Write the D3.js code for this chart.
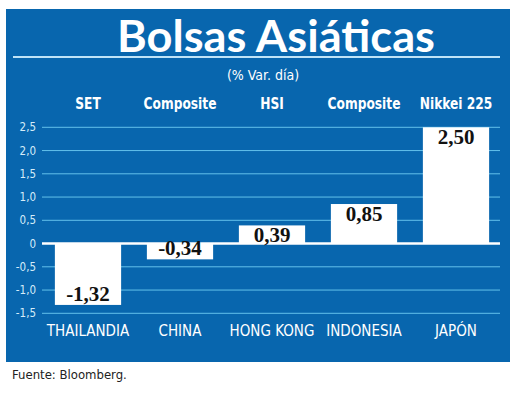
<!DOCTYPE html>
<html>
<head>
<meta charset="utf-8">
<script src="https://cdn.jsdelivr.net/npm/d3@7"></script>
<style>
  body { margin: 0; background: #fff; }
</style>
</head>
<body>
<svg id="chart"></svg>
<script>
// Data
const countries = ["THAILANDIA", "CHINA", "HONG KONG", "INDONESIA", "JAPÓN"];
const indexNames = ["SET", "Composite", "HSI", "Composite", "Nikkei 225"];
const changes = [-1.32, -0.34, 0.39, 0.85, 2.50];
const yTicks = [-1.5, -1.0, -0.5, 0, 0.5, 1.0, 1.5, 2.0, 2.5];

const width = 520, height = 404;
const blue = "#0866ae";
const gridColor = "#63c1ec";
const condensed = "'DejaVu Sans Condensed', 'Open Sans', sans-serif";

const svg = d3.select("#chart")
    .attr("width", width)
    .attr("height", height);

// Blue panel
svg.append("rect")
   .attr("x", 6).attr("y", 9)
   .attr("width", 504).attr("height", 353)
   .attr("fill", blue);

// Title and rule under it
svg.append("text")
   .attr("x", 276).attr("y", 52)
   .attr("text-anchor", "middle")
   .attr("font-family", "Lato, 'Open Sans', sans-serif")
   .attr("font-weight", "bold")
   .attr("font-size", "44px")
   .attr("fill", "#fff")
   .attr("textLength", 318)
   .attr("lengthAdjust", "spacingAndGlyphs")
   .text("Bolsas Asiáticas");

svg.append("line")
   .attr("x1", 13).attr("x2", 500)
   .attr("y1", 57).attr("y2", 57)
   .attr("stroke", "#bfe3f7")
   .attr("stroke-width", 2);

svg.append("text")
   .attr("x", 263).attr("y", 80)
   .attr("text-anchor", "middle")
   .attr("font-family", condensed)
   .attr("font-size", "14px")
   .attr("fill", "#fff")
   .text("(% Var. día)");

// Scales
const x = d3.scaleBand()
    .domain(countries)
    .range([42, 502])
    .paddingInner(0.28)
    .paddingOuter(0.14);

const y = d3.scaleLinear()
    .domain([-1.5, 2.5])
    .range([313.3, 127.3]);

const comma = (v, p) => v.toFixed(p).replace(".", ",");

// Gridlines
svg.selectAll(".grid")
   .data(yTicks.filter(t => t !== 0))
   .enter()
   .append("line")
   .attr("class", "grid")
   .attr("x1", 42).attr("x2", 500)
   .attr("y1", d => y(d)).attr("y2", d => y(d))
   .attr("stroke", gridColor)
   .attr("stroke-width", 1);

// Tick labels
svg.selectAll(".tick-label")
   .data(yTicks)
   .enter()
   .append("text")
   .attr("class", "tick-label")
   .attr("x", 36)
   .attr("y", d => y(d))
   .attr("dy", "0.35em")
   .attr("text-anchor", "end")
   .attr("font-family", condensed)
   .attr("font-size", "11.5px")
   .attr("fill", "#d6ecf9")
   .text(d => d === 0 ? "0" : comma(d, 1));

// Bars
svg.selectAll(".bar")
   .data(changes)
   .enter()
   .append("rect")
   .attr("class", "bar")
   .attr("x", (d, i) => x(countries[i]))
   .attr("width", x.bandwidth())
   .attr("y", d => y(Math.max(0, d)))
   .attr("height", d => Math.abs(y(d) - y(0)))
   .attr("fill", "#fff");

// Zero line
svg.append("line")
   .attr("x1", 42).attr("x2", 500)
   .attr("y1", y(0)).attr("y2", y(0))
   .attr("stroke", "#fff")
   .attr("stroke-width", 2.5);

// Value labels
svg.selectAll(".value-label")
   .data(changes)
   .enter()
   .append("text")
   .attr("class", "value-label")
   .attr("x", (d, i) => x(countries[i]) + x.bandwidth() / 2)
   .attr("y", d => d >= 0 ? y(d) + 17 : y(d) - 4)
   .attr("text-anchor", "middle")
   .attr("font-family", "'Liberation Serif', 'Times New Roman', serif")
   .attr("font-weight", "bold")
   .attr("font-size", "21px")
   .attr("fill", "#111")
   .text(d => comma(d, 2));

// Index names above the chart (narrowed to look condensed)
svg.selectAll(".index-label")
   .data(indexNames)
   .enter()
   .append("text")
   .attr("class", "index-label")
   .attr("transform", (d, i) => `translate(${x(countries[i]) + x.bandwidth() / 2},109) scale(0.85,1)`)
   .attr("text-anchor", "middle")
   .attr("font-family", condensed)
   .attr("font-weight", "bold")
   .attr("font-size", "16px")
   .attr("fill", "#fff")
   .text(d => d);

// Country names below
svg.selectAll(".country-label")
   .data(countries)
   .enter()
   .append("text")
   .attr("class", "country-label")
   .attr("x", d => x(d) + x.bandwidth() / 2)
   .attr("y", 336)
   .attr("text-anchor", "middle")
   .attr("font-family", condensed)
   .attr("font-size", "15px")
   .attr("fill", "#fff")
   .text(d => d);

// Source
svg.append("text")
   .attr("x", 12).attr("y", 379)
   .attr("font-family", condensed)
   .attr("font-size", "13px")
   .attr("fill", "#222")
   .text("Fuente: Bloomberg.");
</script>
</body>
</html>
